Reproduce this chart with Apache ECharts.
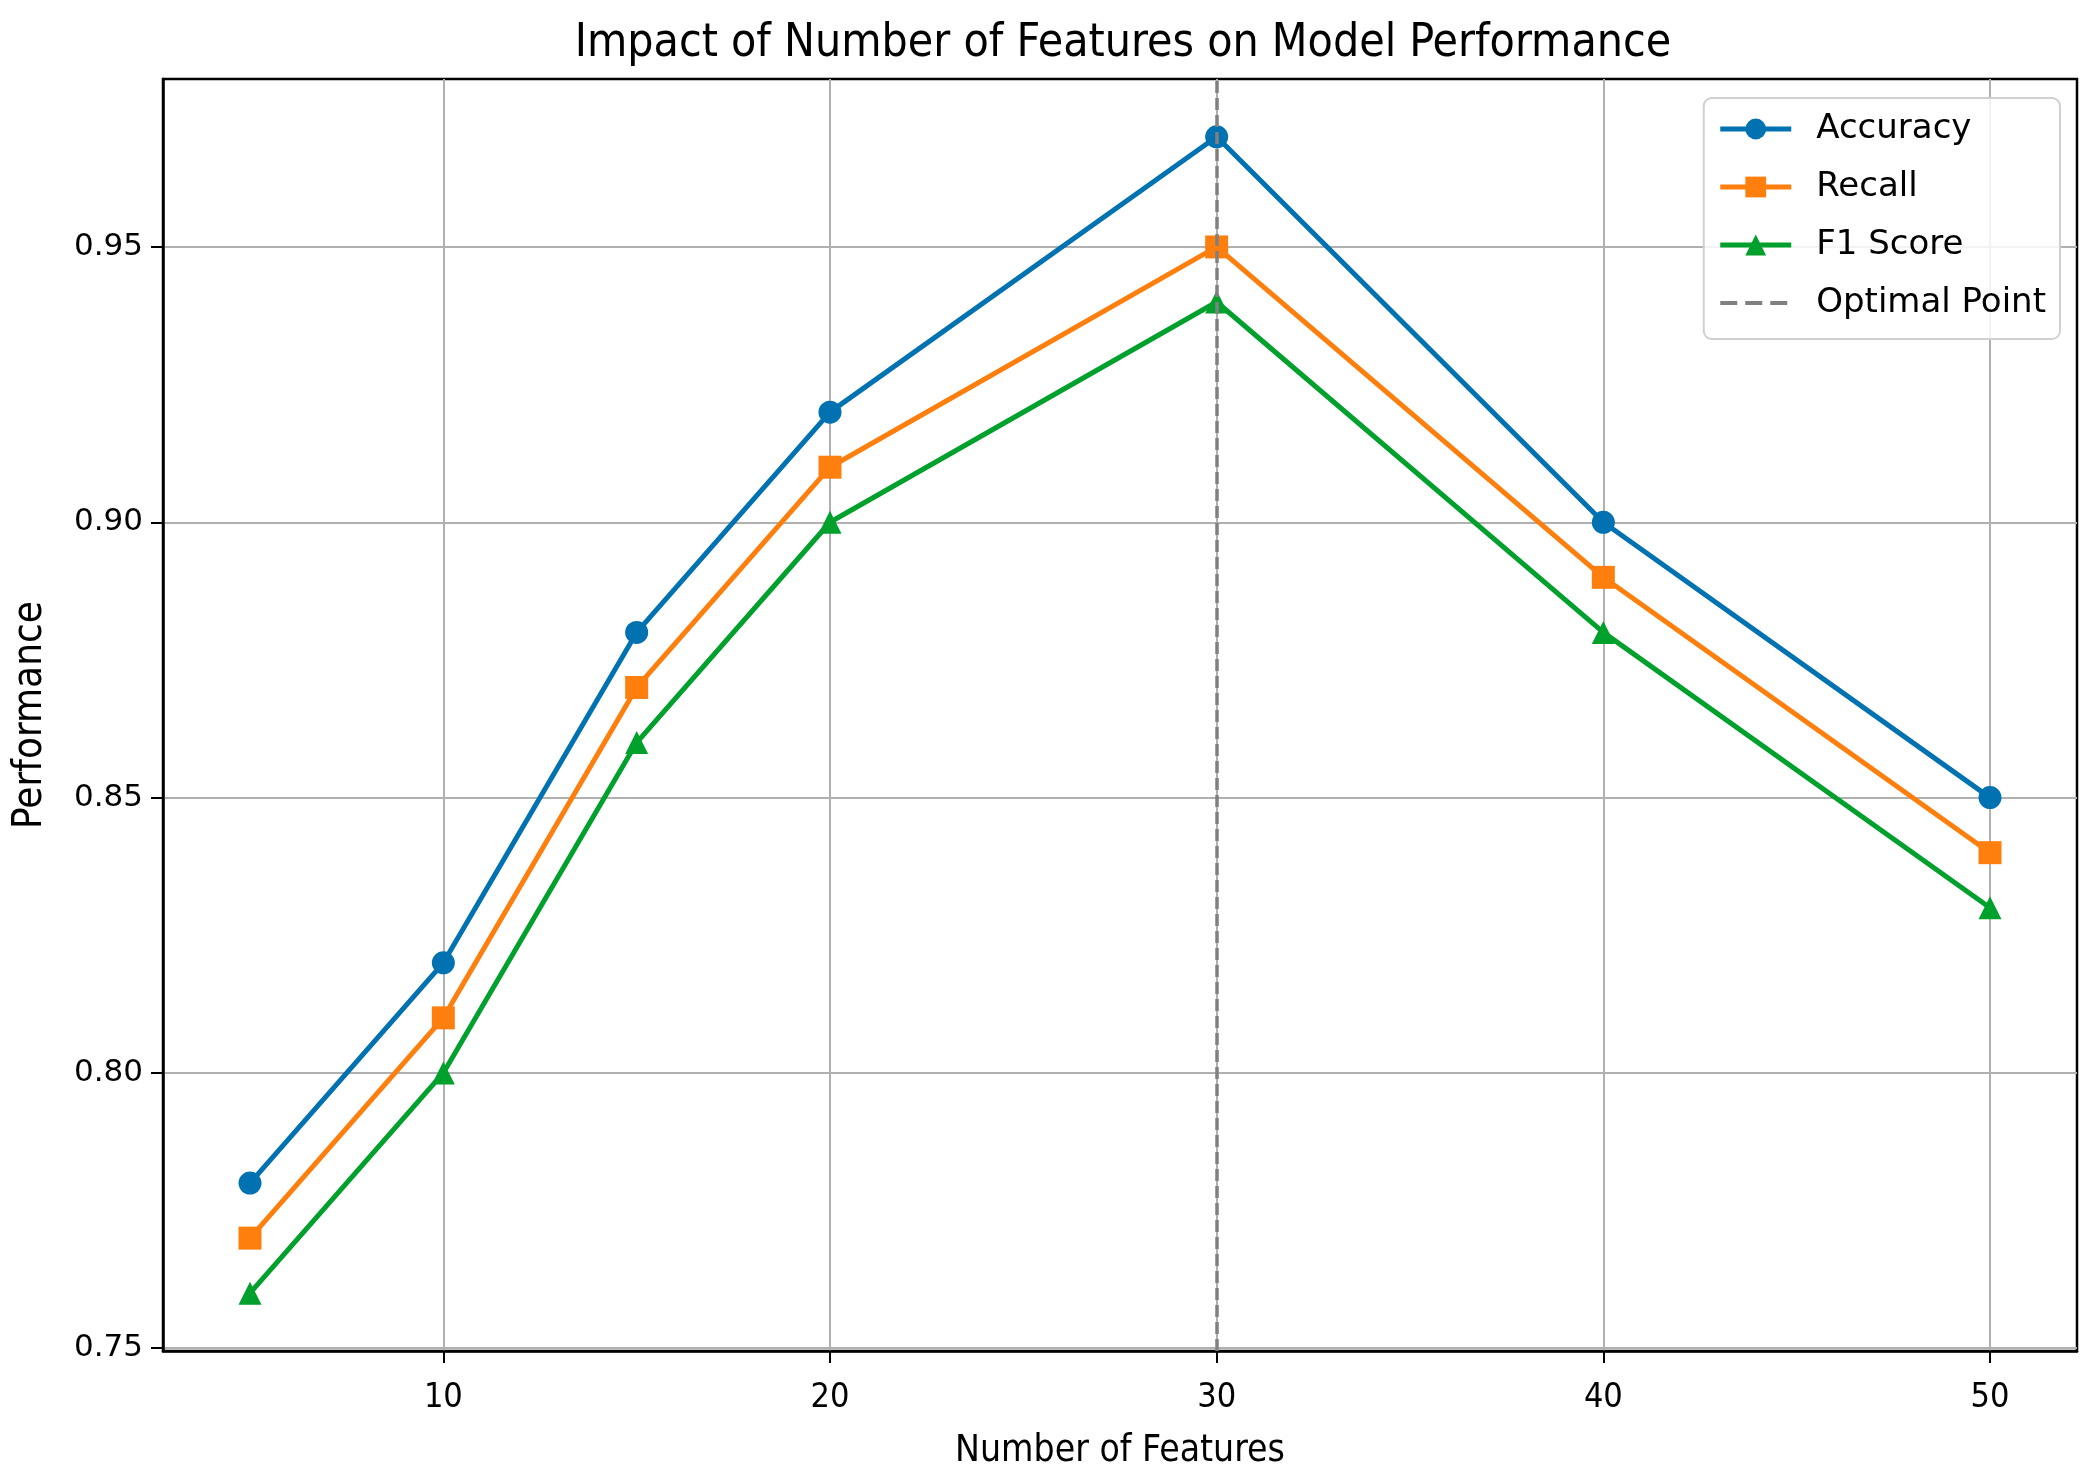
<!DOCTYPE html>
<html>
<head>
<meta charset="utf-8">
<script src="https://cdn.jsdelivr.net/npm/echarts@6/dist/echarts.min.js"></script>
<style>html,body{margin:0;padding:0;background:#fff}#c{width:2097px;height:1481px}</style>
</head>
<body>
<div id="c"></div>
<script>
const features = [5, 10, 15, 20, 30, 40, 50];
const accuracy = [0.78, 0.82, 0.88, 0.92, 0.97, 0.90, 0.85];
const recall = [0.77, 0.81, 0.87, 0.91, 0.95, 0.89, 0.84];
const f1 = [0.76, 0.80, 0.86, 0.90, 0.94, 0.88, 0.83];
const optimalX = 30;
const xTicks = [10, 20, 30, 40, 50];
const yTicks = [0.75, 0.80, 0.85, 0.90, 0.95];

const cond = "'DejaVu Sans Condensed', 'DejaVu Sans', sans-serif";
const chart = echarts.init(document.getElementById('c'), null, {renderer: 'canvas'});
function pts(vals) { return features.map((x, i) => [x, vals[i]]); }
function lineSeries(name, vals, color, symbol) {
  return {
    name: name, type: 'line', data: pts(vals),
    symbol: symbol, symbolSize: 23,
    lineStyle: {color: color, width: 5},
    itemStyle: {color: color},
    z: 3, animation: false
  };
}
chart.setOption({
  animation: false,
  backgroundColor: '#ffffff',
  title: {
    text: 'Impact of Number of Features on Model Performance',
    left: 1118, textAlign: 'center', top: 16,
    textStyle: {fontFamily: cond, fontSize: 46, fontWeight: 'normal', color: '#000'}
  },
  grid: {left: 163, right: 20, top: 79, bottom: 130, show: true, borderColor: '#000', borderWidth: 2.5, containLabel: false},
  legend: {
    right: 37, top: 98, orient: 'vertical',
    itemWidth: 71, itemHeight: 26, itemGap: 24,
    padding: [14, 14, 19, 14],
    backgroundColor: 'rgba(255,255,255,0.85)',
    borderColor: '#d0d0d0', borderWidth: 2, borderRadius: 8,
    textStyle: {fontFamily: "'DejaVu Sans', sans-serif", fontSize: 34, color: '#000', padding: [0, 0, 0, 20], lineHeight: 34},
    lineStyle: {width: 5},
    data: [
      'Accuracy', 'Recall', 'F1 Score',
      {name: 'Optimal Point', itemStyle: {color: 'rgba(0,0,0,0)', borderWidth: 0}, lineStyle: {width: 4, type: [17, 8], color: '#808080'}}
    ]
  },
  xAxis: {
    type: 'value', min: 2.75, max: 52.25,
    name: 'Number of Features', nameLocation: 'middle', nameGap: 82,
    nameTextStyle: {fontFamily: cond, fontSize: 37, color: '#000'},
    axisLine: {show: true, onZero: false, lineStyle: {color: '#000', width: 2.5}},
    axisTick: {show: true, length: 12, inside: false, customValues: xTicks, lineStyle: {color: '#000', width: 2}},
    axisLabel: {customValues: xTicks, margin: 30, fontFamily: cond, fontSize: 34, color: '#000'},
    splitLine: {show: true, lineStyle: {color: '#b0b0b0', width: 2}}
  },
  yAxis: {
    type: 'value', min: 0.7495, max: 0.9805,
    name: 'Performance', nameLocation: 'middle', nameGap: 112,
    nameTextStyle: {fontFamily: cond, fontSize: 40, color: '#000'},
    axisLine: {show: true, onZero: false, lineStyle: {color: '#000', width: 2.5}},
    axisTick: {show: true, length: 12, inside: false, customValues: yTicks, lineStyle: {color: '#000', width: 2}},
    axisLabel: {customValues: yTicks, margin: 20, fontFamily: "'DejaVu Sans', sans-serif", fontSize: 31, color: '#000',
      formatter: v => v.toFixed(2)},
    splitLine: {show: true, lineStyle: {color: '#b0b0b0', width: 2}}
  },
  series: [
    lineSeries('Accuracy', accuracy, '#0072b2', 'circle'),
    lineSeries('Recall', recall, '#ff7f0e', 'rect'),
    lineSeries('F1 Score', f1, '#00a02c', 'triangle'),
    {
      name: 'Optimal Point', type: 'line', data: [], symbol: 'none',
      lineStyle: {color: '#808080', width: 3.5, type: [12, 5]},
      itemStyle: {color: '#808080'},
      z: 10,
      markLine: {
        silent: true, symbol: ['none', 'none'], label: {show: false},
        lineStyle: {color: '#808080', width: 3.5, type: [12, 5]},
        data: [{xAxis: optimalX}],
        animation: false
      }
    }
  ]
});
</script>
</body>
</html>
